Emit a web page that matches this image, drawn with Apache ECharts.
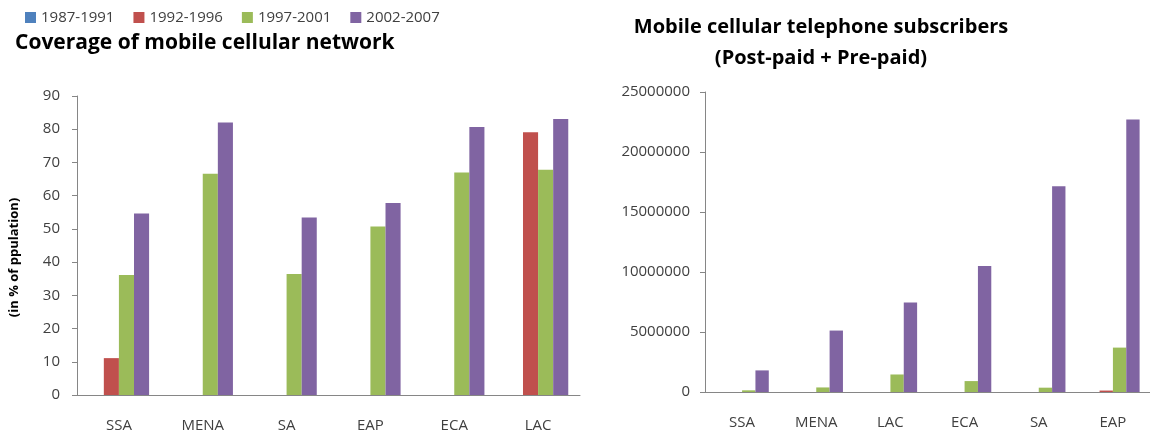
<!DOCTYPE html>
<html>
<head>
<meta charset="utf-8">
<script src="https://cdn.jsdelivr.net/npm/echarts@6/dist/echarts.min.js"></script>
<style>
html,body{margin:0;padding:0;background:#fff;}
#chart{width:1150px;height:437px;}
</style>
</head>
<body>
<div id="chart"></div>
<script>
// ---- data ----
const periods = ['1987-1991', '1992-1996', '1997-2001', '2002-2007'];
const colors = ['#4F81BD', '#C0504D', '#9BBB59', '#8064A2'];

const coverageRegions = ['SSA', 'MENA', 'SA', 'EAP', 'ECA', 'LAC'];
const coverage8791 = [0, 0, 0, 0, 0, 0];
const coverage9296 = [11.1, 0, 0, 0, 0, 79.1];
const coverage9701 = [36.1, 66.6, 36.4, 50.7, 67.0, 67.8];
const coverage0207 = [54.6, 82.0, 53.4, 57.8, 80.7, 83.1];
const coverageTicks = { min: 0, max: 90, interval: 10 };

const subsRegions = ['SSA', 'MENA', 'LAC', 'ECA', 'SA', 'EAP'];
const subs8791 = [0, 0, 0, 0, 0, 0];
const subs9296 = [0, 0, 0, 0, 0, 120000];
const subs9701 = [140000, 380000, 1460000, 910000, 360000, 3700000];
const subs0207 = [1800000, 5120000, 7450000, 10500000, 17150000, 22700000];
const subsTicks = { min: 0, max: 25000000, interval: 5000000 };

const coverageSeries = [coverage8791, coverage9296, coverage9701, coverage0207];
const subsSeries = [subs8791, subs9296, subs9701, subs0207];

// ---- chart ----
const font = '"Open Sans", "Liberation Sans", sans-serif';
const axisLineStyle = { color: '#868686', width: 1 };
const labelStyle = { color: '#404040', fontSize: 15, fontFamily: font };

const series = [];
periods.forEach((p, i) => {
  series.push({
    name: p, type: 'bar', xAxisIndex: 0, yAxisIndex: 0,
    data: coverageSeries[i], itemStyle: { color: colors[i] },
    barGap: '0%', barCategoryGap: '28%', silent: true
  });
});
periods.forEach((p, i) => {
  series.push({
    name: p, type: 'bar', xAxisIndex: 1, yAxisIndex: 1,
    data: subsSeries[i], itemStyle: { color: colors[i] },
    barGap: '0%', barCategoryGap: '28%', silent: true
  });
});

const chart = echarts.init(document.getElementById('chart'), null, { renderer: 'canvas' });
chart.setOption({
  animation: false,
  backgroundColor: '#ffffff',
  color: colors,
  legend: {
    data: periods,
    left: 20, top: 5,
    itemWidth: 11, itemHeight: 11, itemGap: 19,
    icon: 'rect',
    textStyle: { color: '#404040', fontSize: 15, fontFamily: font }
  },
  title: [
    {
      text: 'Coverage of mobile cellular network',
      left: 10, top: 28,
      textStyle: { color: '#000', fontSize: 21, fontWeight: 'bold', fontFamily: font }
    },
    {
      text: 'Mobile cellular telephone subscribers\n(Post-paid + Pre-paid)',
      left: 816, top: 7, textAlign: 'center',
      textStyle: { color: '#000', fontSize: 20, fontWeight: 'bold', fontFamily: font, lineHeight: 31 }
    }
  ],
  grid: [
    { left: 77, right: 570, top: 96, bottom: 42, containLabel: false },
    { left: 705, right: -8, top: 92, bottom: 45, containLabel: false }
  ],
  xAxis: [
    {
      type: 'category', gridIndex: 0, data: coverageRegions,
      axisLine: { lineStyle: axisLineStyle }, axisTick: { show: false },
      axisLabel: Object.assign({ margin: 23 }, labelStyle)
    },
    {
      type: 'category', gridIndex: 1, data: subsRegions,
      axisLine: { lineStyle: axisLineStyle }, axisTick: { show: false },
      axisLabel: Object.assign({ margin: 23 }, labelStyle)
    }
  ],
  yAxis: [
    {
      type: 'value', gridIndex: 0,
      min: coverageTicks.min, max: coverageTicks.max, interval: coverageTicks.interval,
      axisLine: { show: true, lineStyle: axisLineStyle },
      axisTick: { show: true, length: 5, lineStyle: axisLineStyle },
      splitLine: { show: false },
      axisLabel: Object.assign({ margin: 17 }, labelStyle),
      name: '(in % of ppulation)', nameLocation: 'middle', nameRotate: 90, nameGap: 56,
      nameTextStyle: { color: '#000', fontSize: 13, fontWeight: 'bold', fontFamily: font, padding: [0, 24, 0, 0] }
    },
    {
      type: 'value', gridIndex: 1,
      min: subsTicks.min, max: subsTicks.max, interval: subsTicks.interval,
      axisLine: { show: true, lineStyle: axisLineStyle },
      axisTick: { show: true, length: 5, lineStyle: axisLineStyle },
      splitLine: { show: false },
      axisLabel: Object.assign({ margin: 15, formatter: v => String(v) }, labelStyle)
    }
  ],
  series: series
});
</script>
</body>
</html>
